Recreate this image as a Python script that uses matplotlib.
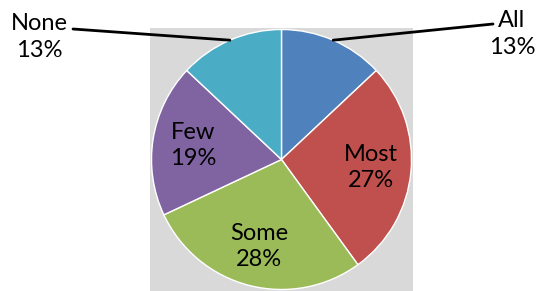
import matplotlib
matplotlib.use("Agg")
import matplotlib.pyplot as plt
import numpy as np

categories = ["All", "Most", "Some", "Few", "None"]
values = [13, 27, 28, 19, 13]
colors = ["#4F81BD", "#C0504D", "#9BBB59", "#8064A2", "#4BACC6"]
inside = ["Most", "Some", "Few"]

W, H = 538, 291
fig = plt.figure(figsize=(W / 100, H / 100), dpi=100)
plt.rcParams['font.family'] = ['Lato', 'DejaVu Sans']

# gray plot area in pixel box: x 150..413, y(top) 28..291
bx0, bx1, by0, by1 = 150, 413, 28, 291
ax = fig.add_axes([bx0 / W, (H - by1) / H, (bx1 - bx0) / W, (by1 - by0) / H])
R = 130
wedges, _ = ax.pie(values, colors=colors, startangle=90, counterclock=False,
                   radius=R, frame=True,
                   wedgeprops=dict(edgecolor="white", linewidth=1))
ax.set_facecolor("#D9D9D9")
ax.set_frame_on(True)
ax.set_xlim(-(bx1 - bx0) / 2, (bx1 - bx0) / 2)
ax.set_ylim(-(by1 - by0) / 2, (by1 - by0) / 2)
ax.set_aspect("auto")
ax.set_xticks([]); ax.set_yticks([])
for s in ax.spines.values():
    s.set_visible(False)

fs = 17
ls = 1.3
outside_pos = {"All": (512, 34), "None": (39, 37)}
line_end = {"All": (493, 24), "None": (73, 29)}
for w, cat, v in zip(wedges, categories, values):
    mid = np.deg2rad((w.theta1 + w.theta2) / 2)
    label = f"{cat}\n{v}%"
    if cat in inside:
        d = 0.69 * R
        ax.text(d * np.cos(mid), d * np.sin(mid), label, ha="center", va="center",
                fontsize=fs, linespacing=ls, color="black")
    else:
        px, py = outside_pos[cat]
        ex, ey = line_end[cat]
        ax.annotate("", xy=(R * np.cos(mid), R * np.sin(mid)), xycoords="data",
                    xytext=(ex, H - ey), textcoords="figure pixels",
                    arrowprops=dict(arrowstyle="-", color="black", lw=2,
                                    shrinkA=0, shrinkB=0),
                    annotation_clip=False)
        fig.text(px / W, (H - py) / H, label, ha="center", va="center",
                 fontsize=fs, linespacing=ls, color="black")

fig.savefig("out.png", dpi=100)
